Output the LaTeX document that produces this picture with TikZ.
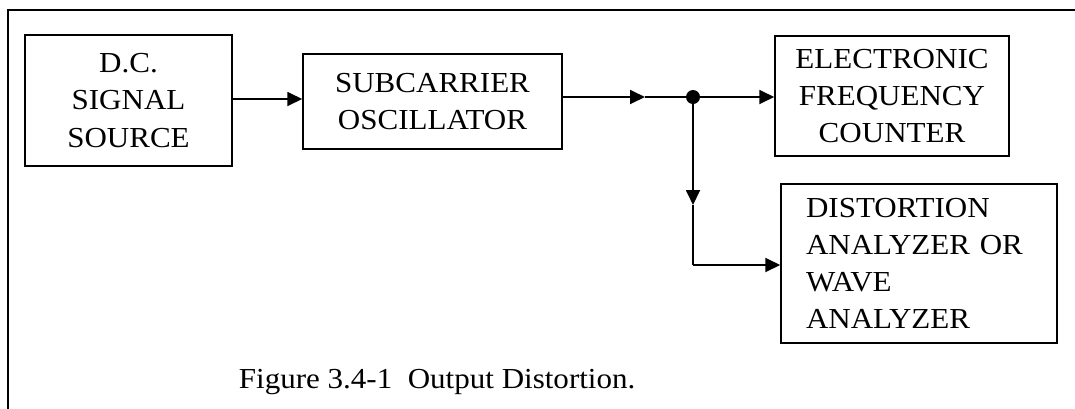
\documentclass[tikz,border=0pt]{standalone}
\usepackage{fontspec}
\setmainfont{Liberation Serif}[FakeStretch=1.07]
\usetikzlibrary{arrows.meta}
\begin{document}
\begin{tikzpicture}[x=0.5pt,y=-0.5pt,
    every node/.style={font=\fontsize{14.5}{18.6}\selectfont},
    blk/.style={draw, line width=0.75pt, align=center, inner sep=0pt},
    >={Triangle[length=7.5pt,width=7pt]}, line width=0.9pt]
  \useasboundingbox (0,0) rectangle (1075,408);
  % frame, cut by the page on right and bottom
  \draw[line width=1.4pt] (8,420) -- (8,10) -- (1090,10);

  \node[blk, minimum width=103.5pt, minimum height=65.5pt] (dc) at (128.5,100.5) {D.C.\\SIGNAL\\SOURCE};
  \node[blk, minimum width=129.5pt, minimum height=47.5pt] (sco) at (432.5,101.5) {SUBCARRIER\\OSCILLATOR};
  \node[blk, minimum width=117pt, minimum height=60pt] (efc) at (892,96) {ELECTRONIC\\FREQUENCY\\COUNTER};
  \node[blk, align=left, text width=113pt, inner xsep=12.5pt, minimum height=79.5pt] (daw) at (919,263.5) {DISTORTION\\ANALYZER OR\\WAVE\\ANALYZER};

  \fill (693,97) circle (3.5pt) coordinate (dot);
  \coordinate (mid1) at (645,97);
  \coordinate (mid2) at (693,205);
  \coordinate (bend) at (693,265);

  \draw[->] (dc.east |- 0,99) -- (sco.west |- 0,99);
  \draw[->] (sco.east |- mid1) -- (mid1);
  \draw (mid1) -- (dot);
  \draw[->] (dot) -- (efc.west |- dot);
  \draw[->] (dot) -- (mid2);
  \draw (mid2) -- (bend);
  \draw[->] (bend) -- (daw.west |- bend);

  \node[anchor=base west, inner sep=0pt] (cap) at (238,388) {Figure 3.4-1\ \ Output Distortion.};
\end{tikzpicture}
\end{document}
